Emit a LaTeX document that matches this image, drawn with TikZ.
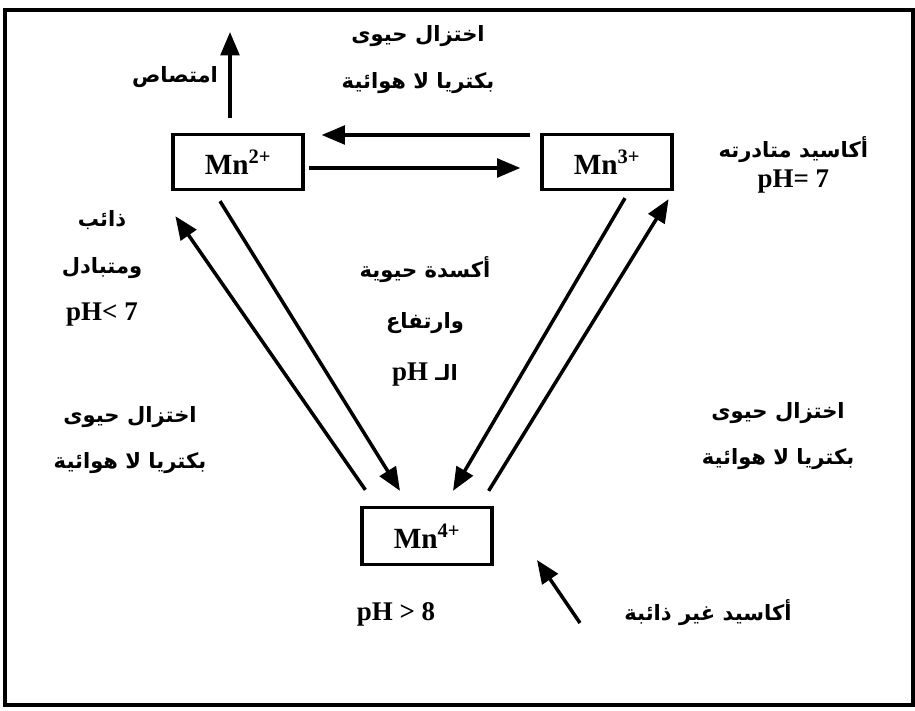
\documentclass[tikz,border=0pt]{standalone}
\usepackage{fontspec}
\setmainfont{Liberation Serif}
\newfontfamily\arabicfont[Script=Arabic]{DejaVu Sans}
\TeXXeTstate=1
\usetikzlibrary{arrows.meta}
\newcommand{\artext}[1]{{\arabicfont\bfseries\beginR #1\endR}}
\newcommand{\ltr}[1]{\beginL{\rmfamily\bfseries #1}\endL}
\tikzset{
  ion/.style={
    rectangle, draw=black, line width=2.8pt,
    minimum width=3.9cm, minimum height=1.65cm,
    inner sep=0pt, font=\fontsize{25}{28}\selectfont\bfseries
  },
  lbl/.style={align=center, inner sep=0pt, font=\fontsize{18}{#1}\selectfont\bfseries},
  lbl/.default=40,
  arr/.style={-{Triangle[length=0.7cm, width=0.56cm]}, line width=3pt},
}

\begin{document}
\begin{tikzpicture}

\useasboundingbox (0,0) rectangle (27.45,21.3);
% outer frame
\draw[line width=3pt] (0.15,0.15) rectangle (27.39,21.0);

% the three oxidation states
\node[ion] at (7.14,16.44) (mn2) {Mn\textsuperscript{2+}};
\node[ion] at (18.21,16.44) (mn3) {Mn\textsuperscript{3+}};
\node[ion, minimum height=1.71cm] at (12.81,5.22) (mn4) {Mn\textsuperscript{4+}};

% free ends
\coordinate (uptake) at (6.9,20.34);
\coordinate (solidTail) at (17.4,2.61);
\coordinate (solidTip) at (16.11,4.5);

% Mn2+ <-> Mn3+
\draw[arr] ([shift={(-0.3,0.81)}]mn3.west) -- ([shift={(0.51,0.81)}]mn2.east);
\draw[arr] ([shift={(0.12,-0.18)}]mn2.east) -- ([shift={(-0.6,-0.18)}]mn3.west);

% Mn2+ <-> Mn4+
\draw[arr] ([shift={(-0.54,-0.3)}]mn2.south) -- ([shift={(-0.81,0.45)}]mn4.north);
\draw[arr] ([shift={(0.15,0.48)}]mn4.north west) -- ([shift={(0.12,-0.75)}]mn2.south west);

% Mn3+ <-> Mn4+
\draw[arr] ([shift={(0.54,-0.21)}]mn3.south) -- ([shift={(0.78,0.45)}]mn4.north);
\draw[arr] ([shift={(-0.15,0.45)}]mn4.north east) -- ([shift={(-0.15,-0.24)}]mn3.south east);

% uptake and insoluble oxides
\draw[arr] ([shift={(-0.24,0.45)}]mn2.north) -- (uptake);
\draw[arr] (solidTail) -- (solidTip);

% labels
\node[lbl] at (5.25,18.99) (lUptake) {\artext{امتصاص}};
\node[lbl] at (12.54,19.5) (lTop) {\artext{اختزال حيوى}\\\artext{بكتريا لا هوائية}};
\node[lbl=26] at (23.8,16.35) (lMn3) {\artext{أكاسيد متادرته}\\{\fontsize{23}{26}\selectfont pH= 7}};
\node[lbl] at (3.06,13.26) (lMn2) {\artext{ذائب}\\\artext{ومتبادل}\\{\fontsize{23}{26}\selectfont pH< 7}};
\node[lbl=44] at (12.75,11.67) (lMid) {\artext{أكسدة حيوية}\\\artext{وارتفاع}\\\artext{الـ \ltr{\fontsize{23}{26}\selectfont pH}}};
\node[lbl] at (3.9,8.1) (lLeft) {\artext{اختزال حيوى}\\\artext{بكتريا لا هوائية}};
\node[lbl] at (23.34,8.22) (lRight) {\artext{اختزال حيوى}\\\artext{بكتريا لا هوائية}};
\node[lbl, font=\fontsize{23}{26}\selectfont\bfseries] at (11.88,2.88) (lMn4) {pH > 8};
\node[lbl] at (21.24,2.91) (lSolid) {\artext{أكاسيد غير ذائبة}};

\end{tikzpicture}
\end{document}
